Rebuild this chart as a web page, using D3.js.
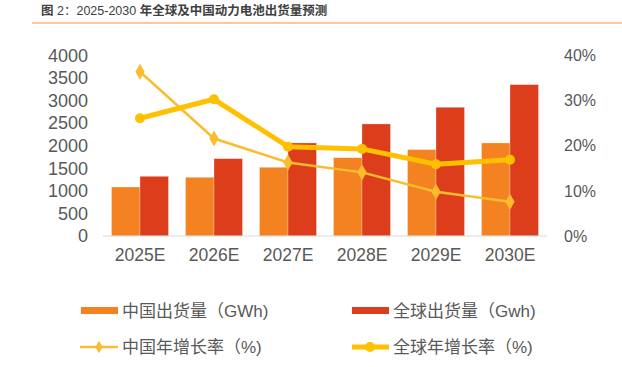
<!DOCTYPE html>
<html><head><meta charset="utf-8">
<script src="https://cdn.jsdelivr.net/npm/d3@7/dist/d3.min.js"></script>
<style>body{margin:0;background:#fff}svg{display:block}text{font-family:"Liberation Sans","Noto Sans CJK SC",sans-serif}</style>
</head><body><svg id="c" width="622" height="367"></svg>
<script>
const categories = ["2025E","2026E","2027E","2028E","2029E","2030E"];
const chinaShip = [1086,1301,1523,1736,1914,2062];
const globalShip = [1323,1714,2062,2483,2853,3355];
const chinaGrowth = [36.4,21.6,16.3,14.1,9.8,7.6];
const globalGrowth = [26.1,30.3,19.8,19.3,15.9,16.9];
const leftTicks = [0,500,1000,1500,2000,2500,3000,3500,4000];
const rightTicks = [0,10,20,30,40];

const svg = d3.select("#c");
const C = {china:"#F58220", global:"#DC3D1B", cLine:"#FBBC2E", gLine:"#FFC000", text:"#595959"};

// title
const t = svg.append("text").attr("x",41).attr("y",15).attr("font-size",12.5).attr("fill","#404040");
t.append("tspan").attr("font-weight","bold").text("图");
t.append("tspan").text(" 2：2025-2030 ");
t.append("tspan").attr("font-weight","bold").text("年全球及中国动力电池出货量预测");
svg.append("line").attr("x1",32).attr("x2",622).attr("y1",23).attr("y2",23).attr("stroke","#F8C9A0").attr("stroke-width",2);

const x = d3.scaleBand().domain(categories).range([103,547]).paddingInner(0.23).paddingOuter(0.115);
const y = d3.scaleLinear().domain([0,4000]).range([236,55.5]);
const y2 = d3.scaleLinear().domain([0,40]).range([236,55.5]);
const bw = x.bandwidth()/2;

const g = svg.append("g");
g.selectAll(".cb").data(categories).join("rect")
  .attr("x",d=>x(d)).attr("width",bw)
  .attr("y",(d,i)=>y(chinaShip[i])).attr("height",(d,i)=>y(0)-y(chinaShip[i]))
  .attr("fill",C.china).attr("stroke","#fff").attr("stroke-opacity",0.4).attr("stroke-width",0.7);
g.selectAll(".gb").data(categories).join("rect")
  .attr("x",d=>x(d)+bw).attr("width",bw)
  .attr("y",(d,i)=>y(globalShip[i])).attr("height",(d,i)=>y(0)-y(globalShip[i]))
  .attr("fill",C.global).attr("stroke","#fff").attr("stroke-opacity",0.4).attr("stroke-width",0.7);

svg.append("line").attr("x1",103).attr("x2",547).attr("y1",236).attr("y2",236).attr("stroke","#D9D9D9").attr("stroke-width",1.2);

// axes
const la = svg.append("g").attr("transform","translate(88,0)").call(d3.axisLeft(y).tickValues(leftTicks).tickSize(0).tickPadding(0).tickFormat(d3.format("d")));
la.select(".domain").remove();
la.selectAll("text").attr("font-size",18).attr("fill",C.text).attr("font-family","Liberation Sans, sans-serif");
const ra = svg.append("g").attr("transform","translate(564,0)").call(d3.axisRight(y2).tickValues(rightTicks).tickSize(0).tickPadding(0).tickFormat(d=>d+"%"));
ra.select(".domain").remove();
ra.selectAll("text").attr("font-size",16).attr("fill",C.text).attr("font-family","Liberation Sans, sans-serif");
const ba = svg.append("g").attr("transform","translate(0,249)").call(d3.axisBottom(x).tickSize(0).tickPadding(0));
ba.select(".domain").remove();
ba.selectAll("text").attr("font-size",17.5).attr("fill",C.text).attr("font-family","Liberation Sans, sans-serif");

const cx = d=>x(d)+bw;
const line1 = d3.line().x((d,i)=>cx(categories[i])).y(d=>y2(d));
svg.append("path").attr("d",line1(chinaGrowth)).attr("fill","none").attr("stroke",C.cLine).attr("stroke-width",2.5);
svg.selectAll(".dm").data(chinaGrowth).join("path")
  .attr("d",d3.symbol(d3.symbolDiamond,75))
  .attr("transform",(d,i)=>`translate(${cx(categories[i])},${y2(d)})`).attr("fill",C.cLine);
svg.append("path").attr("d",line1(globalGrowth)).attr("fill","none").attr("stroke",C.gLine).attr("stroke-width",5).attr("stroke-linejoin","round");
svg.selectAll(".ci").data(globalGrowth).join("circle")
  .attr("cx",(d,i)=>cx(categories[i])).attr("cy",d=>y2(d)).attr("r",5).attr("fill",C.gLine);

// legend
const L = svg.append("g");
function lt(xp,yp,s){L.append("text").attr("x",xp).attr("y",yp).attr("dy","0.35em").attr("font-size",17).attr("fill",C.text).text(s);}
L.append("rect").attr("x",81).attr("y",307).attr("width",37).attr("height",7).attr("fill",C.china);
lt(122,311,"中国出货量（GWh)");
L.append("rect").attr("x",352).attr("y",307).attr("width",37).attr("height",7).attr("fill",C.global);
lt(393,311,"全球出货量（Gwh)");
L.append("line").attr("x1",80).attr("x2",118).attr("y1",347).attr("y2",347).attr("stroke",C.cLine).attr("stroke-width",2.5);
L.append("path").attr("d",d3.symbol(d3.symbolDiamond,45)).attr("transform","translate(99,347)").attr("fill",C.cLine);
lt(122,347,"中国年增长率（%)");
L.append("line").attr("x1",352).attr("x2",389).attr("y1",347).attr("y2",347).attr("stroke",C.gLine).attr("stroke-width",5);
L.append("circle").attr("cx",370).attr("cy",347).attr("r",5).attr("fill",C.gLine);
lt(393,347,"全球年增长率（%)");
</script></body></html>
